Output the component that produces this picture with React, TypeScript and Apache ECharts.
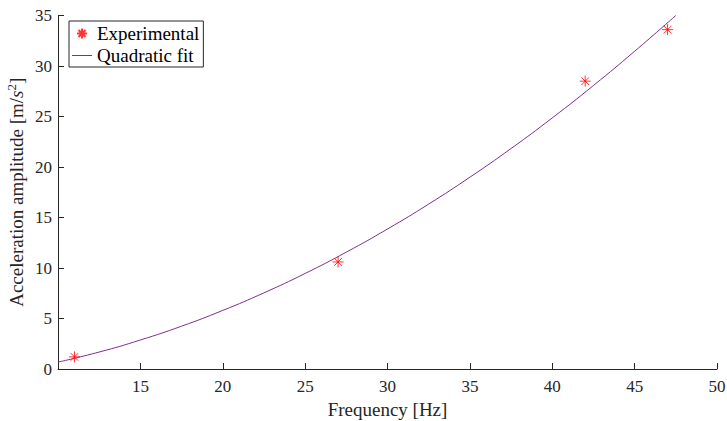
import React, { useEffect, useRef } from "react";
import * as echarts from "echarts";

const expX = [11, 27, 42, 47];
const expY = [1.2, 10.6, 28.5, 33.6];

const fitX = [10, 12.5, 15, 17.5, 20, 22.5, 25, 27.5, 30, 32.5, 35, 37.5, 40, 42.5, 45, 47.5];
const fitY = [0.68, 1.68, 2.87, 4.24, 5.8, 7.54, 9.46, 11.57, 13.86, 16.33, 18.99, 21.83, 24.86, 28.07, 31.46, 35.0];

const xTicks = { min: 10, max: 50, interval: 5 };
const yTicks = { min: 0, max: 35, interval: 5 };

const FONT = "Liberation Serif";
const AX = "#262626";
const ASTERISK = "path://M0,5L10,5M5,0L5,10M1.5,1.5L8.5,8.5M8.5,1.5L1.5,8.5";
const LINE_ICON = "path://M0,0L0.01,0M0,4.5L20,4.5L20,5.5L0,5.5ZM0,10L0.01,10";

export default function App() {
  const ref = useRef<HTMLDivElement>(null);
  useEffect(() => {
    if (!ref.current) return;
    document.body.style.margin = "0";
    const chart = echarts.init(ref.current, undefined, { renderer: "svg" });
    chart.setOption({
      animation: false,
      textStyle: { fontFamily: FONT },
      grid: { left: 58, right: 10, top: 15.5, bottom: 52, containLabel: false, outerBoundsMode: "none" },
      legend: {
        orient: "vertical",
        left: 69,
        top: 21,
        padding: [3, 4, 2, 3],
        itemGap: 3,
        itemWidth: 20,
        itemHeight: 10,
        borderColor: AX,
        borderWidth: 1,
        backgroundColor: "#fff",
        textStyle: { fontFamily: FONT, fontSize: 19, color: "#000" },
        data: [
          { name: "Experimental" },
          { name: "Quadratic fit", icon: LINE_ICON },
        ],
      },
      xAxis: {
        type: "value",
        min: xTicks.min,
        max: xTicks.max,
        interval: xTicks.interval,
        name: "Frequency [Hz]",
        nameLocation: "middle",
        nameGap: 29,
        nameTextStyle: { fontFamily: FONT, fontSize: 19, color: AX },
        axisLine: { show: true, onZero: false, lineStyle: { color: AX, width: 1 } },
        axisTick: { show: true, inside: true, length: 6, lineStyle: { color: AX } },
        axisLabel: {
          fontFamily: FONT,
          fontSize: 17,
          color: AX,
          margin: 9,
          showMinLabel: false,
        },
        splitLine: { show: false },
      },
      yAxis: {
        type: "value",
        min: yTicks.min,
        max: yTicks.max,
        interval: yTicks.interval,
        name: "Acceleration amplitude [m/{i|s}{sup|2}]",
        nameLocation: "middle",
        nameGap: 31,
        nameMoveOverlap: false,
        nameTextStyle: {
          fontFamily: FONT,
          fontSize: 19,
          color: AX,
          rich: {
            i: { fontFamily: FONT, fontSize: 19, fontStyle: "italic", color: AX },
            sup: { fontFamily: FONT, fontSize: 13, color: AX, padding: [0, 0, 9, 0] },
          },
        },
        axisLine: { show: true, onZero: false, lineStyle: { color: AX, width: 1 } },
        axisTick: { show: true, inside: true, length: 6, lineStyle: { color: AX } },
        axisLabel: { fontFamily: FONT, fontSize: 17, color: AX, margin: 6 },
        splitLine: { show: false },
      },
      series: [
        {
          name: "Experimental",
          type: "scatter",
          data: expX.map((x, i) => [x, expY[i]]),
          symbol: ASTERISK,
          symbolSize: 11,
          itemStyle: { color: "#ff0000", borderColor: "#ff0000", borderWidth: 1 },
          z: 3,
        },
        {
          name: "Quadratic fit",
          type: "line",
          data: fitX.map((x, i) => [x, fitY[i]]),
          smooth: true,
          symbol: "none",
          lineStyle: { color: "#7E2F8E", width: 1 },
          itemStyle: { color: "#7E2F8E" },
          z: 2,
        },
      ],
    });
    return () => chart.dispose();
  }, []);
  return <div ref={ref} style={{ width: 727, height: 421 }} />;
}
